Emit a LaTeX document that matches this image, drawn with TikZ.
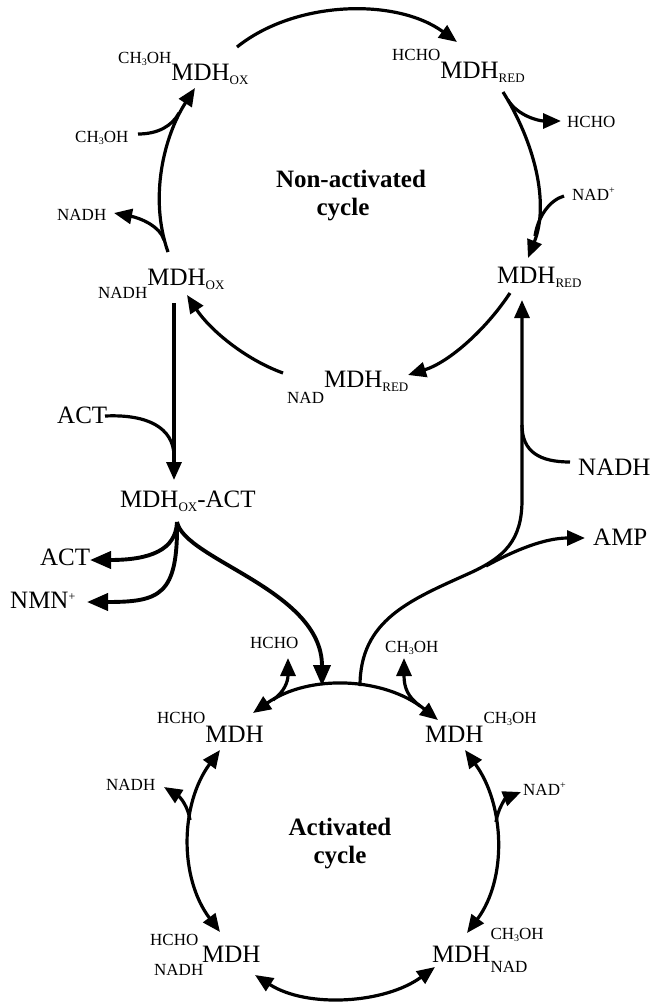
\documentclass[tikz,border=0pt]{standalone}
\usepackage{fontspec}
\setmainfont{Liberation Serif}
\usetikzlibrary{arrows.meta}
\newcommand\smf{\fontsize{17}{19}\selectfont}
\newcommand\bgf{\fontsize{25}{28}\selectfont}
\newcommand\sbs[1]{\raisebox{-4pt}{\fontsize{13}{13}\selectfont #1}}
\newcommand\tri{\raisebox{-2.5pt}{\fontsize{10}{10}\selectfont 3}}
\newcommand\plus{\raisebox{7pt}{\fontsize{10}{10}\selectfont +}}
\newcommand\bplus{\raisebox{7.5pt}{\fontsize{12}{12}\selectfont +}}
\newcommand\meth{CH\tri OH}
\tikzset{
  big/.style={font=\bgf, inner sep=0pt, anchor=base west},
  sml/.style={font=\smf, inner sep=0pt, anchor=base west},
  ttl/.style={font=\bgf\bfseries, inner sep=0pt, anchor=base},
  ln/.style={line width=3.2pt},
  rx/.style={line width=3.2pt, -{Triangle[length=18pt,width=15pt]}},
  rxb/.style={line width=3.2pt, {Triangle[length=18pt,width=15pt]}-{Triangle[length=18pt,width=15pt]}},
  rxt/.style={line width=3.9pt, -{Triangle[length=21pt,width=17pt]}},
}
\begin{document}
\begin{tikzpicture}[x=1pt,y=-1pt]
\fill[white] (0,0) rectangle (660,1002);
\useasboundingbox (0,0) rectangle (660,1002);

% ---------- texts, non-activated cycle ----------
\node[big] (oxA) at (118,80) {\raisebox{17pt}{\smf\meth}MDH\sbs{OX}};
\node[big] (redA) at (392,78) {\raisebox{18pt}{\smf HCHO}MDH\sbs{RED}};
\node[sml] (hchoA) at (567,127) {HCHO};
\node[sml] (nadA) at (572,200) {NAD\plus};
\node[big] (redB) at (497,283) {MDH\sbs{RED}};
\node[big] (redC) at (287,387) {\raisebox{-16pt}{\smf NAD}MDH\sbs{RED}};
\node[big] (oxB) at (98,285) {\raisebox{-13pt}{\smf NADH}MDH\sbs{OX}};
\node[sml] (nadhA) at (57,220) {NADH};
\node[sml] (methA) at (75,142) {\meth};
\node[ttl] (ttlA1) at (351,187) {Non-activated};
\node[ttl] (ttlA2) at (343,215) {cycle};

% ---------- texts, middle ----------
\node[big] (actA) at (57,423) {ACT};
\node[big] (oxact) at (120,507) {MDH\sbs{OX}-ACT};
\node[big] (actB) at (40,565) {ACT};
\node[big] (nmn) at (10,608) {NMN\bplus};
\node[big] (amp) at (593,545) {AMP};
\node[big] (nadhR) at (578,475) {NADH};

% ---------- texts, activated cycle ----------
\node[sml] (hchoT) at (250,648) {HCHO};
\node[sml] (methT) at (385,652) {\meth};
\node[big] (mA) at (157,742) {\raisebox{19pt}{\smf HCHO}MDH};
\node[big] (mB) at (425,742) {MDH\raisebox{19pt}{\smf\meth}};
\node[sml] (nadhT) at (106,790) {NADH};
\node[sml] (nadT) at (523,795) {NAD\plus};
\node[ttl] (ttlB1) at (340,835) {Activated};
\node[ttl] (ttlB2) at (340,863) {cycle};
\node[big] (mC) at (150,962) {\makebox[52pt][l]{\rlap{\raisebox{17pt}{\smf HCHO}}\hspace{4pt}\raisebox{-13pt}{\smf NADH}}MDH};
\node[big] (mD) at (432,962) {MDH\rlap{\raisebox{23pt}{\smf\meth}}\raisebox{-10pt}{\smf NAD}};

% ---------- connector end points ----------
\coordinate (oxAe) at (237,47);
\coordinate (redAw) at (457,42);
\coordinate (redAs) at (503,92);
\coordinate (redBn) at (528,258);
\coordinate (jHcho) at (508,100);
\coordinate (hchoAw) at (561,121);
\coordinate (nadAw) at (564,196);
\coordinate (jNad) at (535,236);
\coordinate (redBs) at (510,293);
\coordinate (redCe) at (408,375);
\coordinate (redCw) at (283,373);
\coordinate (oxBe) at (187,295);
\coordinate (oxBn) at (168,252);
\coordinate (oxAs) at (195,88);
\coordinate (jNadh) at (164,240);
\coordinate (nadhAe) at (114,213);
\coordinate (methAe) at (138,134);
\coordinate (jMeth) at (179,113);
\coordinate (oxBs) at (174,303);
\coordinate (oxactn) at (174,480);
\coordinate (actAe) at (105,416);
\coordinate (jAct) at (174,455);
\coordinate (oxacts) at (177,522);
\coordinate (actBe) at (90,560);
\coordinate (nmne) at (87,602);
\coordinate (topL) at (322,686);
\coordinate (topR) at (360,686);
\coordinate (sMid) at (470,573);
\coordinate (vLow) at (522,500);
\coordinate (redBb) at (522,300);
\coordinate (jAmp) at (486,566);
\coordinate (ampw) at (585,538);
\coordinate (nadhRw) at (570,462);
\coordinate (jNadhR) at (522,425);
\coordinate (mAn) at (253,713);
\coordinate (mBn) at (438,720);
\coordinate (jHchoT) at (273,700);
\coordinate (hchoTs) at (288,658);
\coordinate (jMethT) at (420,706);
\coordinate (methTs) at (404,658);
\coordinate (mAs) at (220,750);
\coordinate (mCn) at (220,932);
\coordinate (jNadhT) at (190,820);
\coordinate (nadhTe) at (164,787);
\coordinate (mBs) at (465,750);
\coordinate (mDn) at (467,933);
\coordinate (jNadT) at (496,822);
\coordinate (nadTw) at (521,792);
\coordinate (mCe) at (255,975);
\coordinate (mDw) at (435,967);

% ---------- non-activated cycle ----------
\draw[rx] (oxAe) .. controls +(58.5,-46.9) and +(-60.5,-44.3) .. (redAw);
\draw[rx] (redAs) .. controls +(31.4,50.1) and +(21.7,-55.0) .. (redBn);
\draw[rx] (jHcho) .. controls +(10,16) and +(-22,0) .. (hchoAw);
\draw[ln] (nadAw) .. controls +(-14,4) and +(3,-20) .. (jNad);
\draw[rx] (redBs) .. controls +(-23.7,36.1) and +(41.3,-12.8) .. (redCe);
\draw[rx] (redCw) .. controls +(-38.5,-13.9) and +(22.5,34.3) .. (oxBe);
\draw[rx] (oxBn) .. controls +(-19.1,-54.2) and +(-31.2,48.4) .. (oxAs);
\draw[rx] (jNadh) .. controls +(-4,-14) and +(26,5) .. (nadhAe);
\draw[ln] (methAe) .. controls +(20,0) and +(-7,13) .. (jMeth);

% ---------- activation ----------
\draw[rx] (oxBs) -- (oxactn);
\draw[ln] (actAe) .. controls +(43,-2) and +(-1,-27) .. (jAct);
\draw[rxt] (oxacts) .. controls +(-1,28) and +(60,0) .. (actBe);
\draw[rxt] (oxacts) .. controls +(1,73) and +(73,0) .. (nmne);
\draw[rxt] (oxacts) .. controls +(8,38) and +(0,-96) .. (topL);
\draw[rx] (topR) .. controls +(0,-66) and +(-60,27) .. (sMid)
          .. controls +(35,-16) and +(0,40) .. (vLow) -- (redBb);
\draw[rx] (jAmp) .. controls +(29,-16) and +(-40,0) .. (ampw);
\draw[ln] (nadhRw) .. controls +(-30,0) and +(0,27) .. (jNadhR);

% ---------- activated cycle ----------
\draw[rxb] (mAn) .. controls +(56.3,-39.4) and +(-53.6,-42.9) .. (mBn);
\draw[rx] (jHchoT) .. controls +(11,-8) and +(0,24) .. (hchoTs);
\draw[rx] (jMethT) .. controls +(-12,-9) and +(0,30) .. (methTs);
\draw[rxb] (mAs) .. controls +(-40.2,54.5) and +(-40.8,-54.1) .. (mCn);
\draw[rx] (jNadhT) .. controls +(-2,-14) and +(16,10) .. (nadhTe);
\draw[rxb] (mBs) .. controls +(39.9,54.5) and +(40.4,-54.1) .. (mDn);
\draw[rx] (jNadT) .. controls +(2,-14) and +(-15,6) .. (nadTw);
\draw[rxb] (mCe) .. controls +(52.1,33.6) and +(-50,36.6) .. (mDw);
\end{tikzpicture}
\end{document}
